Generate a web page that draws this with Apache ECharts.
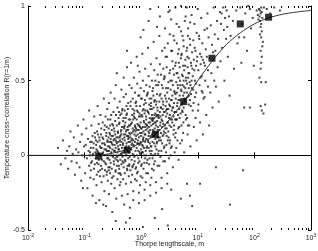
<!DOCTYPE html>
<html>
<head>
  <meta charset="utf-8" />
  <title>Temperature cross-correlation vs Thorpe lengthscale</title>
  <script src="https://cdn.jsdelivr.net/npm/echarts@6/dist/echarts.min.js"></script>
  <style>
    html, body { margin: 0; padding: 0; background: #fff; }
    #main { width: 318px; height: 251px; }
  </style>
</head>
<body>
  <div id="main"></div>
  <script>
    // scatter cloud as [log10(Thorpe lengthscale), R]
    var cloud = [
      [-1.47,0.05],[-1.42,-0.06],[-1.38,0.1],[-1.34,-0.02],[-1.31,0.03],
      [-1.29,-0.09],[-1.27,0.06],[-1.25,0.16],[-1.23,-0.04],[-1.21,0.01],
      [-1.19,0.12],[-1.17,-0.13],[-1.15,0.04],[-1.14,-0.05],[-1.12,0.2],[-1.11,0.02],
      [-1.09,-0.08],[-1.08,0.09],[-1.06,-0.17],[-1.05,0.14],[-1.04,0.0],[-1.03,-0.22],[-1.02,0.24],[-1.01,0.06],
      [-0.99,-0.12],[-0.98,0.07],[-0.97,0.18],[-0.96,-0.02],[-0.95,-0.22],[-0.94,0.11],[-0.93,0.03],[-0.92,-0.07],[-0.92,0.3],[-0.91,0.0],[-0.9,-0.15],[-0.9,0.09],
      [-0.89,0.05],[-0.89,-0.1],[-0.88,0.2],[-0.87,-0.04],[-0.86,0.13],[-0.86,-0.27],[-0.85,0.01],[-0.84,0.08],[-0.84,-0.16],[-0.83,0.26],[-0.82,-0.06],[-0.82,0.15],[-0.81,0.02],[-0.8,-0.32],[-0.8,0.1],
      [-0.79,0.04],[-0.79,-0.2],[-0.78,0.16],[-0.78,-0.05],[-0.77,0.09],[-0.77,0.33],[-0.76,-0.11],[-0.76,0.02],[-0.75,0.21],[-0.75,-0.03],
      [-0.74,0.12],[-0.74,-0.3],[-0.73,0.06],[-0.73,-0.14],[-0.72,0.27],[-0.72,0.0],[-0.71,-0.07],[-0.71,0.14],[-0.7,0.05],[-0.7,-0.18],
      [-0.69,0.08],[-0.69,-0.09],[-0.68,0.22],[-0.68,0.01],[-0.67,-0.33],[-0.67,0.11],[-0.66,0.38],[-0.66,-0.04],[-0.65,0.17],[-0.65,0.04],[-0.65,-0.24],[-0.64,0.07],
      [-0.64,-0.1],[-0.63,0.26],[-0.63,0.0],[-0.62,0.13],[-0.62,-0.06],[-0.62,-0.34],[-0.61,0.19],[-0.61,0.03],[-0.61,-0.13],[-0.6,0.09],[-0.6,0.31],[-0.6,-0.02],
      [-0.59,0.06],[-0.59,-0.17],[-0.59,0.24],[-0.58,0.0],[-0.58,0.12],[-0.58,-0.08],[-0.57,0.35],[-0.57,0.03],[-0.57,-0.26],[-0.56,0.15],[-0.56,-0.03],[-0.56,0.09],[-0.55,0.2],[-0.55,-0.12],
      [-0.55,0.05],[-0.54,0.42],[-0.54,-0.05],[-0.54,0.11],[-0.53,0.27],[-0.53,-0.19],[-0.53,0.02],[-0.52,0.08],[-0.52,-0.09],[-0.52,0.17],[-0.51,-0.38],[-0.51,0.04],[-0.5,0.13],[-0.5,-0.01],
      [-0.49,0.1],[-0.49,-0.14],[-0.49,0.29],[-0.48,0.03],[-0.48,0.18],[-0.48,-0.06],[-0.47,0.07],[-0.47,-0.22],[-0.47,0.38],[-0.46,0.14],[-0.46,-0.02],[-0.46,0.23],[-0.45,0.05],[-0.45,-0.1],[-0.45,0.47],[-0.44,0.12],
      [-0.44,-0.29],[-0.44,0.0],[-0.43,0.2],[-0.43,0.08],[-0.43,-0.07],[-0.42,0.32],[-0.42,0.02],[-0.42,-0.16],[-0.41,0.15],[-0.41,0.06],[-0.41,-0.04],[-0.4,0.25],[-0.4,-0.12],[-0.4,0.09],[-0.45,-0.44],[-0.43,0.55],
      [-0.39,0.04],[-0.39,0.21],[-0.39,-0.09],[-0.38,0.12],[-0.38,0.36],[-0.38,-0.2],[-0.37,0.07],[-0.37,-0.03],[-0.37,0.27],[-0.36,0.16],[-0.36,-0.13],[-0.36,0.01],[-0.35,0.44],[-0.35,0.09],[-0.35,-0.06],[-0.34,0.19],[-0.34,-0.27],[-0.34,0.05],
      [-0.33,0.31],[-0.33,0.11],[-0.33,-0.01],[-0.32,0.23],[-0.32,-0.16],[-0.32,0.08],[-0.31,0.14],[-0.31,0.52],[-0.31,-0.08],[-0.3,0.02],[-0.3,0.18],[-0.3,-0.33],[-0.35,0.28],[-0.37,0.13],[-0.33,-0.04],[-0.31,0.39],[-0.39,0.0],
      [-0.29,0.1],[-0.29,-0.12],[-0.29,0.3],[-0.28,0.05],[-0.28,0.22],[-0.28,-0.04],[-0.27,0.16],[-0.27,0.41],[-0.27,-0.19],[-0.26,0.08],[-0.26,0.0],[-0.26,0.27],[-0.25,0.13],[-0.25,-0.09],[-0.25,0.59],[-0.24,0.19],[-0.24,0.03],[-0.24,-0.26],[-0.23,0.35],
      [-0.23,0.11],[-0.23,-0.02],[-0.22,0.24],[-0.22,0.06],[-0.22,-0.14],[-0.21,0.15],[-0.21,0.47],[-0.21,-0.06],[-0.2,0.09],[-0.2,0.2],[-0.2,-0.35],[-0.28,0.14],[-0.26,0.33],[-0.24,-0.07],[-0.22,0.12],[-0.21,0.02],[-0.27,-0.45],[-0.25,0.7],[-0.23,0.17],
      [-0.19,0.12],[-0.19,-0.1],[-0.19,0.33],[-0.18,0.04],[-0.18,0.21],[-0.18,-0.18],[-0.17,0.15],[-0.17,0.45],[-0.17,-0.03],[-0.16,0.08],[-0.16,0.27],[-0.16,-0.13],[-0.15,0.18],[-0.15,0.01],[-0.15,0.38],[-0.14,0.1],[-0.14,-0.24],[-0.14,0.24],[-0.13,0.06],[-0.13,0.52],
      [-0.13,-0.06],[-0.12,0.14],[-0.12,0.3],[-0.12,-0.01],[-0.11,0.2],[-0.11,-0.16],[-0.11,0.09],[-0.1,0.35],[-0.1,0.03],[-0.1,-0.09],[-0.18,0.62],[-0.16,0.11],[-0.14,-0.3],[-0.12,0.17],[-0.11,0.42],[-0.15,-0.07],[-0.13,0.26],[-0.17,0.07],[-0.2,-0.42],[-0.1,0.16],
      [-0.09,0.13],[-0.09,-0.08],[-0.09,0.36],[-0.08,0.05],[-0.08,0.24],[-0.08,-0.17],[-0.07,0.17],[-0.07,0.48],[-0.07,0.0],[-0.06,0.1],[-0.06,0.29],[-0.06,-0.11],[-0.05,0.2],[-0.05,0.03],[-0.05,0.4],[-0.04,0.12],[-0.04,-0.25],[-0.04,0.26],[-0.03,0.07],[-0.03,0.56],[-0.03,-0.04],
      [-0.02,0.15],[-0.02,0.33],[-0.02,0.01],[-0.01,0.22],[-0.01,-0.14],[-0.01,0.09],[0.0,0.38],[0.0,0.04],[0.0,-0.07],[-0.08,0.66],[-0.06,0.14],[-0.04,-0.32],[-0.02,0.19],[-0.01,0.45],[-0.05,-0.02],[-0.03,0.28],[-0.07,0.08],[-0.02,-0.2],[0.0,0.18],[-0.01,0.79],[-0.06,0.6],
      [0.01,0.15],[0.01,-0.06],[0.01,0.38],[0.02,0.07],[0.02,0.26],[0.02,-0.15],[0.03,0.19],[0.03,0.5],[0.03,0.02],[0.04,0.12],[0.04,0.31],[0.04,-0.09],[0.05,0.22],[0.05,0.05],[0.05,0.43],[0.06,0.14],[0.06,-0.23],[0.06,0.28],[0.07,0.09],[0.07,0.58],[0.07,-0.02],
      [0.08,0.17],[0.08,0.35],[0.08,0.03],[0.09,0.24],[0.09,-0.12],[0.09,0.11],[0.1,0.4],[0.1,0.06],[0.1,-0.05],[0.02,0.68],[0.04,0.16],[0.06,-0.3],[0.08,0.21],[0.09,0.47],[0.05,0.0],[0.07,0.3],[0.03,0.1],[0.08,-0.18],[0.1,0.2],[0.04,0.84],[0.03,-0.48],
      [0.11,0.18],[0.11,-0.03],[0.11,0.41],[0.12,0.1],[0.12,0.29],[0.12,-0.12],[0.13,0.22],[0.13,0.53],[0.13,0.05],[0.14,0.15],[0.14,0.34],[0.14,-0.06],[0.15,0.25],[0.15,0.08],[0.15,0.46],[0.16,0.17],[0.16,-0.2],[0.16,0.31],[0.17,0.12],[0.17,0.61],[0.17,0.01],
      [0.18,0.2],[0.18,0.38],[0.18,0.06],[0.19,0.27],[0.19,-0.09],[0.19,0.14],[0.2,0.43],[0.2,0.09],[0.2,-0.02],[0.12,0.72],[0.14,0.19],[0.16,-0.27],[0.18,0.24],[0.19,0.5],[0.15,0.03],[0.17,0.33],[0.13,0.13],[0.18,-0.15],[0.2,0.23],[0.13,0.9],[0.16,0.98],
      [0.21,0.21],[0.21,0.0],[0.21,0.45],[0.22,0.13],[0.22,0.32],[0.22,-0.1],[0.23,0.25],[0.23,0.57],[0.23,0.08],[0.24,0.18],[0.24,0.37],[0.24,-0.04],[0.25,0.28],[0.25,0.11],[0.25,0.5],[0.26,0.2],[0.26,-0.18],[0.26,0.34],[0.27,0.15],[0.27,0.65],
      [0.27,0.04],[0.28,0.23],[0.28,0.41],[0.28,0.09],[0.29,0.3],[0.29,-0.07],[0.29,0.17],[0.3,0.47],[0.3,0.12],[0.3,0.01],[0.22,0.76],[0.24,0.22],[0.26,-0.25],[0.28,0.27],[0.29,0.54],[0.25,0.06],[0.27,0.36],[0.23,0.16],[0.28,0.86],[0.3,0.26],[0.24,-0.42],
      [0.31,0.25],[0.31,0.03],[0.31,0.49],[0.32,0.17],[0.32,0.36],[0.32,-0.07],[0.33,0.29],[0.33,0.61],[0.33,0.12],[0.34,0.22],[0.34,0.41],[0.34,-0.01],[0.35,0.32],[0.35,0.15],[0.35,0.54],[0.36,0.24],[0.36,-0.15],[0.36,0.38],[0.37,0.19],
      [0.37,0.7],[0.37,0.08],[0.38,0.27],[0.38,0.45],[0.38,0.13],[0.39,0.34],[0.39,-0.04],[0.39,0.21],[0.4,0.51],[0.4,0.16],[0.4,0.05],[0.32,0.8],[0.34,0.26],[0.36,-0.22],[0.38,0.31],[0.39,0.58],[0.35,0.1],[0.33,0.93],[0.37,-0.36],
      [0.41,0.29],[0.41,0.06],[0.41,0.53],[0.42,0.2],[0.42,0.4],[0.42,-0.04],[0.43,0.33],[0.43,0.66],[0.43,0.15],[0.44,0.26],[0.44,0.45],[0.44,0.02],[0.45,0.36],[0.45,0.18],[0.45,0.59],[0.46,0.28],[0.46,-0.12],[0.46,0.42],
      [0.47,0.22],[0.47,0.75],[0.47,0.1],[0.48,0.31],[0.48,0.49],[0.48,0.16],[0.49,0.38],[0.49,-0.02],[0.49,0.25],[0.5,0.55],[0.5,0.2],[0.5,0.08],[0.42,0.85],[0.44,0.3],[0.46,-0.19],[0.48,0.96],[0.45,0.13],[0.47,-0.47],
      [0.51,0.33],[0.51,0.1],[0.51,0.57],[0.52,0.24],[0.52,0.44],[0.52,0.0],[0.53,0.37],[0.53,0.7],[0.53,0.19],[0.54,0.3],[0.54,0.5],[0.54,0.06],[0.55,0.4],[0.55,0.22],[0.55,0.63],[0.56,0.32],
      [0.56,-0.08],[0.56,0.47],[0.57,0.26],[0.57,0.8],[0.57,0.14],[0.58,0.35],[0.58,0.54],[0.58,0.2],[0.59,0.42],[0.59,0.02],[0.59,0.29],[0.6,0.6],[0.6,0.24],[0.6,0.12],[0.53,0.91],[0.53,-0.23],
      [0.61,0.38],[0.61,0.15],[0.61,0.62],[0.62,0.29],[0.62,0.49],[0.62,0.05],[0.63,0.42],[0.63,0.75],[0.63,0.24],[0.64,0.35],[0.64,0.55],[0.64,0.1],[0.65,0.45],[0.65,0.27],
      [0.65,0.68],[0.66,0.37],[0.66,-0.03],[0.66,0.52],[0.67,0.31],[0.67,0.86],[0.67,0.19],[0.68,0.4],[0.68,0.59],[0.68,0.25],[0.69,0.47],[0.69,0.08],[0.7,0.65],[0.7,-0.29],
      [0.71,0.43],[0.71,0.2],[0.71,0.67],[0.72,0.34],[0.72,0.54],[0.72,0.1],[0.73,0.47],[0.73,0.8],[0.73,0.29],[0.74,0.4],[0.74,0.6],[0.74,0.15],[0.75,0.5],
      [0.75,0.32],[0.75,0.73],[0.76,0.42],[0.76,0.02],[0.76,0.57],[0.77,0.36],[0.77,0.9],[0.78,0.45],[0.78,0.64],[0.79,0.52],[0.79,0.24],[0.8,0.7],
      [0.81,0.48],[0.81,0.25],[0.81,0.72],[0.82,0.39],[0.82,0.59],[0.82,0.14],[0.83,0.52],[0.83,0.85],[0.84,0.34],[0.84,0.45],[0.84,0.65],
      [0.85,0.2],[0.85,0.55],[0.86,0.37],[0.86,0.78],[0.87,0.47],[0.87,0.06],[0.88,0.62],[0.88,0.41],[0.89,0.94],[0.89,0.5],[0.9,0.69],[0.81,-0.19],[0.86,-0.27],[0.9,-0.34],
      [0.91,0.53],[0.91,0.3],[0.92,0.77],[0.92,0.44],[0.93,0.64],[0.93,0.19],[0.94,0.57],[0.94,0.88],[0.95,0.39],[0.95,0.5],[0.96,0.7],[0.96,0.25],[0.97,0.6],[0.97,0.42],[0.98,0.82],[0.98,0.1],[0.99,0.66],[1.0,0.98],
      [1.01,0.57],[1.01,0.34],[1.02,0.8],[1.03,0.47],[1.04,0.68],[1.04,0.22],[1.05,0.61],[1.06,0.92],[1.07,0.43],[1.07,0.53],[1.08,0.75],[1.09,0.14],[1.09,0.64],[1.1,0.38],[1.04,-0.19],
      [1.11,0.62],[1.12,0.39],[1.12,0.84],[1.13,0.5],[1.14,0.71],[1.15,0.27],[1.16,0.66],[1.17,0.95],[1.18,0.46],[1.18,0.57],[1.19,0.79],[1.2,0.2],
      [1.21,0.65],[1.22,0.42],[1.23,0.87],[1.24,0.55],[1.25,0.74],[1.26,0.32],[1.27,0.69],[1.28,0.99],[1.29,0.5],[1.3,0.81],[1.32,-0.08],
      [1.31,0.7],[1.32,0.46],[1.34,0.9],[1.35,0.59],[1.36,0.78],[1.37,0.36],[1.39,0.96],[1.4,0.63],
      [1.41,0.88],[1.42,0.95],[1.43,0.72],[1.45,0.99],[1.46,0.84],[1.47,0.5],[1.48,0.92],[1.5,0.78],
      [1.51,0.97],[1.52,0.86],[1.53,0.66],[1.55,0.93],[1.56,0.4],[1.58,0.8],[1.57,-0.33],
      [1.62,0.9],[1.64,0.58],[1.68,0.97],[1.7,0.75],[1.8,-0.1],
      [1.73,0.79],[1.75,0.99],[1.77,0.62],[1.79,0.88],[1.82,0.79],
      [1.82,0.32],[1.84,0.95],[1.87,0.7],[1.89,1.0],[1.92,0.32],
      [1.92,0.98],[1.94,0.85],[1.97,0.92],[1.99,0.6],
      [2.08,0.98],[2.1,0.97],[2.12,0.99],[2.11,0.95],[2.09,0.93],[2.13,0.96],[2.07,0.91],[2.1,0.9],[2.14,0.92],[2.12,0.88],
      [2.11,0.86],[2.13,0.83],[2.1,0.81],[2.12,0.79],[2.15,0.76],[2.14,0.73],[2.11,0.7],[2.13,0.66],[2.12,0.62],[2.11,0.58],
      [2.09,0.52],[2.12,0.49],[2.2,0.49],[2.19,0.34],[2.11,0.33],[2.13,0.3],[2.16,0.28],[2.06,0.94],[2.04,0.97],[2.17,0.99],
      [2.22,0.98],[2.28,0.95],[2.35,0.99],[2.45,0.97]
    ];

    // the dark core of the cloud, same units
    var cloudCore = [
      [-0.905,0.02],[-0.885,-0.05],[-0.875,0.09],[-0.865,0.0],[-0.845,0.05],[-0.835,-0.09],[-0.815,0.12],[-0.805,-0.02],[-0.795,0.07],[-0.785,-0.13],
      [-0.775,0.03],[-0.765,0.14],[-0.755,-0.06],[-0.745,0.01],[-0.735,0.1],[-0.725,-0.1],[-0.715,0.05],[-0.705,0.18],[-0.695,-0.03],[-0.685,0.12],
      [-0.675,0.02],[-0.665,-0.14],[-0.655,0.08],[-0.645,0.2],[-0.635,-0.05],[-0.625,0.04],[-0.615,0.15],[-0.605,-0.11],
      [-0.595,0.1],[-0.585,-0.02],[-0.575,0.18],[-0.565,0.06],[-0.555,-0.08],[-0.545,0.24],[-0.535,0.0],[-0.525,0.13],[-0.515,-0.15],[-0.505,0.07],
      [-0.495,0.2],[-0.485,-0.04],[-0.475,0.11],[-0.465,0.03],[-0.455,-0.11],[-0.445,0.27],[-0.435,0.09],[-0.425,-0.01],[-0.415,0.16],[-0.405,0.04],
      [-0.395,-0.07],[-0.385,0.22],[-0.375,0.1],[-0.365,-0.18],[-0.355,0.14],[-0.345,0.01],[-0.335,0.3],[-0.325,0.07],[-0.315,-0.05],[-0.305,0.19],
      [-0.592,0.03],[-0.572,-0.1],[-0.552,0.14],[-0.532,0.09],[-0.512,0.21],[-0.492,0.0],[-0.472,0.16],[-0.452,0.1],[-0.432,-0.03],[-0.412,0.12],
      [-0.392,0.29],[-0.372,-0.12],[-0.352,0.17],[-0.332,0.02],[-0.312,0.25],
      [-0.295,0.12],[-0.285,-0.03],[-0.275,0.25],[-0.265,0.06],[-0.255,0.17],[-0.245,-0.1],[-0.235,0.31],[-0.225,0.09],[-0.215,0.2],[-0.205,-0.01],
      [-0.195,0.14],[-0.185,0.36],[-0.175,0.04],[-0.165,0.22],[-0.155,-0.08],[-0.145,0.16],[-0.135,0.07],[-0.125,0.28],[-0.115,-0.04],[-0.105,0.19],
      [-0.095,0.11],[-0.085,0.33],[-0.075,-0.12],[-0.065,0.21],[-0.055,0.08],[-0.045,0.17],[-0.035,0.4],[-0.025,0.02],[-0.015,0.26],[-0.005,0.13],
      [-0.292,0.2],[-0.272,0.0],[-0.252,0.28],[-0.232,0.13],[-0.212,-0.07],[-0.192,0.24],[-0.172,0.1],[-0.152,0.31],[-0.132,0.0],[-0.112,0.25],
      [-0.092,0.18],[-0.072,0.3],[-0.052,-0.05],[-0.032,0.2],[-0.012,0.08],
      [0.005,0.18],[0.015,0.02],[0.025,0.3],[0.035,0.11],[0.045,0.23],[0.055,-0.05],[0.065,0.37],[0.075,0.14],[0.085,0.26],[0.095,0.05],
      [0.105,0.2],[0.115,0.42],[0.125,0.09],[0.135,0.28],[0.145,-0.02],[0.155,0.22],[0.165,0.13],[0.175,0.35],[0.185,0.03],[0.195,0.25],
      [0.205,0.17],[0.215,0.4],[0.225,-0.06],[0.235,0.27],[0.245,0.14],[0.255,0.22],[0.265,0.47],[0.275,0.08],[0.285,0.32],[0.295,0.19],
      [0.008,0.27],[0.028,0.06],[0.048,0.34],[0.068,0.19],[0.088,0.0],[0.108,0.3],[0.128,0.16],[0.148,0.38],[0.168,0.06],[0.188,0.31],
      [0.208,0.24],[0.228,0.36],[0.248,0.01],[0.268,0.26],[0.288,0.12],
      [0.305,0.27],[0.315,0.1],[0.325,0.4],[0.335,0.2],[0.345,0.32],[0.355,0.03],[0.365,0.47],[0.375,0.23],[0.385,0.36],[0.395,0.14],
      [0.405,0.29],[0.415,0.52],[0.425,0.18],[0.435,0.38],[0.445,0.07],[0.455,0.31],[0.465,0.22],[0.475,0.45],[0.485,0.12],[0.495,0.34],
      [0.505,0.27],[0.515,0.5],[0.525,0.05],[0.535,0.37],[0.545,0.24],[0.555,0.32],[0.565,0.58],[0.575,0.17],[0.585,0.43],[0.595,0.29],
      [0.605,0.41],[0.615,0.24],[0.625,0.55],[0.635,0.33],[0.645,0.47],[0.655,0.18],[0.665,0.62],[0.675,0.37],[0.685,0.5],[0.695,0.28],
      [0.705,0.44],[0.715,0.68],[0.725,0.3],[0.735,0.53],[0.745,0.22],[0.755,0.46],[0.765,0.38],[0.775,0.6],[0.785,0.27],[0.795,0.5],
      [0.805,0.42],[0.815,0.66],[0.825,0.2],[0.835,0.55],[0.845,0.4],[0.855,0.49],[0.865,0.74],[0.875,0.33],[0.885,0.6],[0.895,0.45],
      [0.905,0.58],[0.925,0.35],[0.945,0.72],[0.965,0.48],[0.985,0.63],[1.005,0.3],[1.025,0.78],[1.045,0.52],[1.065,0.66],[1.085,0.42],[1.125,0.6],[1.165,0.85],
      [0.415,0.72],[0.455,0.66],[0.505,0.81],[0.545,0.7],[0.585,0.77],[0.625,0.88],[0.665,0.71],[0.705,0.83],[0.745,0.77],[0.785,0.93],
      [0.825,0.8],[0.865,0.89],[0.505,0.97],[0.605,0.99],[0.705,1.0],[0.805,0.99]
    ];

    // bin averages (black squares)
    var binX = [0.178, 0.562, 1.78, 5.62, 17.8, 56.2, 178];
    var binR = [-0.005, 0.035, 0.14, 0.36, 0.65, 0.88, 0.925];

    // fitted curve
    var fitX = [0.01, 0.1, 0.178, 0.25, 0.316, 0.562, 1, 1.78, 3.16, 5.62, 10, 17.8, 31.6, 56.2, 100, 178, 316, 562, 1000];
    var fitR = [0, 0, 0, 0.008, 0.015, 0.04, 0.085, 0.14, 0.24, 0.36, 0.5, 0.63, 0.74, 0.82, 0.88, 0.92, 0.945, 0.96, 0.97];

    var yTicks = [-0.5, 0, 0.5, 1];

    var font = 'Liberation Sans, Arial, sans-serif';

    var chart = echarts.init(document.getElementById('main'));

    var cloudData = cloud.concat(cloudCore).map(function (p) { return [Math.pow(10, p[0]), p[1]]; });
    var binData = binX.map(function (x, i) { return [x, binR[i]]; });
    var fitData = fitX.map(function (x, i) { return [x, fitR[i]]; });

    function xLabel(v) {
      var e = Math.round(Math.log(v) / Math.LN10);
      return '{b|10}{s|' + e + '}';
    }

    var tickStyle = { show: true, inside: true, length: 3, lineStyle: { color: '#000', width: 1 } };
    var lineStyle = { show: true, lineStyle: { color: '#000', width: 1 } };

    var option = {
      animation: false,
      grid: { left: 28, right: 7, top: 6, bottom: 21, containLabel: false, outerBoundsMode: 'none' },
      xAxis: [{
        type: 'log',
        logBase: 10,
        min: 0.01,
        max: 1000,
        position: 'bottom',
        name: 'Thorpe lengthscale, m',
        nameLocation: 'middle',
        nameGap: 11,
        nameMoveOverlap: false,
        nameTextStyle: { fontSize: 7, color: '#222', fontFamily: font, verticalAlign: 'top' },
        axisLine: lineStyle,
        axisTick: tickStyle,
        splitLine: { show: false },
        axisLabel: {
          margin: 3,
          formatter: xLabel,
          rich: {
            b: { fontSize: 7, color: '#222', fontFamily: font },
            s: { fontSize: 5, color: '#222', fontFamily: font, padding: [0, 0, 5, 0] }
          }
        }
      }, {
        type: 'log',
        logBase: 10,
        min: 0.01,
        max: 1000,
        position: 'top',
        axisLine: lineStyle,
        axisTick: tickStyle,
        axisLabel: { show: false },
        splitLine: { show: false }
      }],
      yAxis: [{
        type: 'value',
        min: yTicks[0],
        max: yTicks[yTicks.length - 1],
        interval: 0.5,
        position: 'left',
        name: 'Temperature cross\u2212correlation R(r=1m)',
        nameLocation: 'middle',
        nameGap: 17,
        nameMoveOverlap: false,
        nameRotate: 90,
        nameTextStyle: { fontSize: 7, color: '#222', fontFamily: font },
        axisLine: lineStyle,
        axisTick: tickStyle,
        splitLine: { show: false },
        axisLabel: { margin: 3, fontSize: 7, color: '#222', fontFamily: font, hideOverlap: false }
      }, {
        type: 'value',
        min: yTicks[0],
        max: yTicks[yTicks.length - 1],
        interval: 0.5,
        position: 'right',
        axisLine: lineStyle,
        axisTick: tickStyle,
        axisLabel: { show: false },
        splitLine: { show: false }
      }],
      series: [{
        type: 'scatter',
        data: cloudData,
        symbol: 'rect',
        symbolSize: 2,
        itemStyle: { color: '#1a1a1a' },
        silent: true
      }, {
        type: 'line',
        data: fitData,
        showSymbol: false,
        smooth: 0.3,
        lineStyle: { color: '#333', width: 1 },
        z: 4,
        silent: true
      }, {
        type: 'scatter',
        data: binData,
        symbol: 'rect',
        symbolSize: 7,
        itemStyle: { color: '#000' },
        z: 5,
        silent: true
      }]
    };

    chart.setOption(option);

    // log-axis minor ticks (2..9 in each decade), bottom and top
    var yb = chart.convertToPixel({ yAxisIndex: 0 }, yTicks[0]);
    var yt = chart.convertToPixel({ yAxisIndex: 0 }, yTicks[yTicks.length - 1]);
    var minor = [];
    for (var n = -2; n < 3; n++) {
      for (var k = 2; k < 10; k++) {
        var px = Math.round(chart.convertToPixel({ xAxisIndex: 0 }, k * Math.pow(10, n))) + 0.5;
        minor.push({ type: 'line', shape: { x1: px, y1: yb, x2: px, y2: yb - 2 }, style: { stroke: '#000', lineWidth: 1 }, silent: true });
        minor.push({ type: 'line', shape: { x1: px, y1: yt, x2: px, y2: yt + 2 }, style: { stroke: '#000', lineWidth: 1 }, silent: true });
      }
    }
    chart.setOption({ graphic: minor });
  </script>
</body>
</html>
